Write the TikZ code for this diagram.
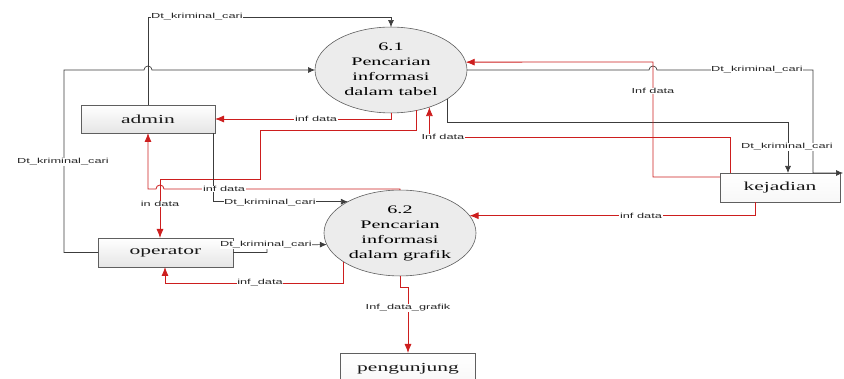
\documentclass[tikz,border=0pt]{standalone}
\usepackage{fontspec}
\setmainfont{Liberation Serif}
\setsansfont{Liberation Sans}
\usepackage{graphicx}
\usetikzlibrary{shapes.geometric,arrows.meta,calc}
\definecolor{lnred}{RGB}{205,30,30}
\definecolor{lngray}{RGB}{60,60,60}
\definecolor{bdgray}{RGB}{95,95,95}
\newcommand{\sx}[1]{\scalebox{1.75}[1]{#1}}
\newcommand{\bx}[1]{\scalebox{1.75}[1]{#1}}
\newcommand{\proctext}[4]{\sx{\renewcommand{\arraystretch}{1.125}\begin{tabular}{@{}c@{}}#1\\#2\\#3\\#4\end{tabular}}}
\begin{document}
\begin{tikzpicture}[x=1pt,y=-1pt,
  >={Latex[length=7pt,width=6pt]},
  ra/.style={-{Latex[length=9pt,width=7pt]}},
  proc/.style={ellipse, draw=bdgray, fill=gray!15, line width=0.6pt, minimum width=152pt, minimum height=76pt, inner sep=0pt, outer sep=0pt, font=\fontsize{11.5}{13.5}\selectfont},
  ent/.style={rectangle, draw=bdgray, line width=0.7pt, top color=white, bottom color=gray!20, inner sep=0pt, outer sep=0pt, text=black!90, font=\fontsize{12.3}{14}\selectfont},
  rl/.style={draw=lnred, line width=0.8pt},
  gl/.style={draw=lngray, line width=0.7pt},
  lbl/.style={fill=white, inner sep=0.6pt, text=black!85, font=\sffamily\fontsize{7.3}{8}\selectfont}
]
\useasboundingbox (0,0) rectangle (844,379);

% processes and entities
\node[proc] (e61) at (391,70) {\proctext{6.1}{Pencarian}{informasi}{dalam tabel}};
\node[proc, minimum height=80pt] (e62) at (400,233) {\proctext{6.2}{Pencarian}{informasi}{dalam grafik}};
\node[ent, minimum width=134pt, minimum height=28pt] (admin) at (148,119) {\bx{admin}};
\node[ent, minimum width=135pt, minimum height=29pt] (oper) at (165.5,252.5) {\bx{operator}};
\node[ent, minimum width=120pt, minimum height=29pt, bottom color=gray!6] (kej) at (780,187.5) {\bx{kejadian}};
\node[ent, minimum width=135pt, minimum height=32pt, bottom color=gray!6] (peng) at (408,369) {\bx{pengunjung}};
\coordinate (kout) at (843,173);

% admin -> 6.1 (top)
\draw[gl,->] (admin.north) -- (148,17) -| (e61.north);
% operator -> 6.1 (left, with hop)
\draw[gl,->] (oper.west) -- (64,252.5) -- (64,70) -- (144,70) arc[start angle=180, end angle=360, radius=4] -- (e61.west);
% 6.1 -> admin
\draw[rl,ra] (e61.south) |- (admin.east);
% 6.1 -> operator
\draw[rl,ra] (e61.-58) |- (260,130) -- (260,179) -- (160,179) -- (oper.north -| 160,0);
% 6.2 -> admin (with hop)
\draw[rl,ra] (e62.north) -- (400,189) -- (164,189) arc[start angle=0, end angle=-180, radius=4] -| (admin.south);
% admin -> 6.2
\draw[gl,->] (admin.south -| 213,0) |- (e62.149);
% operator -> 6.2
\draw[gl,->] (oper.east) -- (267,252.5) -- (267,245) -- (e62.-171);
% 6.2 -> operator
\draw[rl,ra] (e62.-153) |- (165,283) -- (oper.south -| 165,0);
% 6.2 -> pengunjung
\draw[rl,ra] (e62.south) -- (400,287) -| (peng.north);
% 6.1 -> kejadian
\draw[gl,->] (e61.-27) |- (788,122) -- (kej.north -| 788,0);
% 6.1 -> kejadian top edge (with hop)
\draw[gl,->] (e61.east) -- (649,70) arc[start angle=180, end angle=360, radius=4] -- (813,70) -- (813,173) -- (kout);
% kejadian -> 6.1 (red vertical)
\draw[rl,ra] ($(kej.north west)+(0,4)$) -- (653,177) -- (653,62) -- (e61.6);
% kejadian -> 6.1 (bottom)
\draw[rl,ra] (kej.north -| 730,0) -- (730,137) -| (e61.-44);
% kejadian -> 6.2
\draw[rl,ra] (kej.south -| 755,0) |- (e62.14);

% labels
\node[lbl] (l1) at (197,17) {\sx{Dt\_kriminal\_cari}};
\node[lbl] (l2) at (63,162) {\sx{Dt\_kriminal\_cari}};
\node[lbl] (l3) at (316,119) {\sx{inf data}};
\node[lbl] (l4) at (160,204) {\sx{in data}};
\node[lbl] (l5) at (224,189) {\sx{inf data}};
\node[lbl] (l6) at (270,203) {\sx{Dt\_kriminal\_cari}};
\node[lbl] (l7) at (266,245) {\sx{Dt\_kriminal\_cari}};
\node[lbl] (l8) at (260,283) {\sx{inf\_data}};
\node[lbl] (l9) at (408,308) {\sx{Inf\_data\_grafik}};
\node[lbl] (l10) at (787,147) {\sx{Dt\_kriminal\_cari}};
\node[lbl] (l11) at (757,70) {\sx{Dt\_kriminal\_cari}};
\node[lbl] (l12) at (653,91) {\sx{Inf data}};
\node[lbl] (l13) at (443,137) {\sx{Inf data}};
\node[lbl] (l14) at (641,216) {\sx{inf data}};
\end{tikzpicture}
\end{document}
